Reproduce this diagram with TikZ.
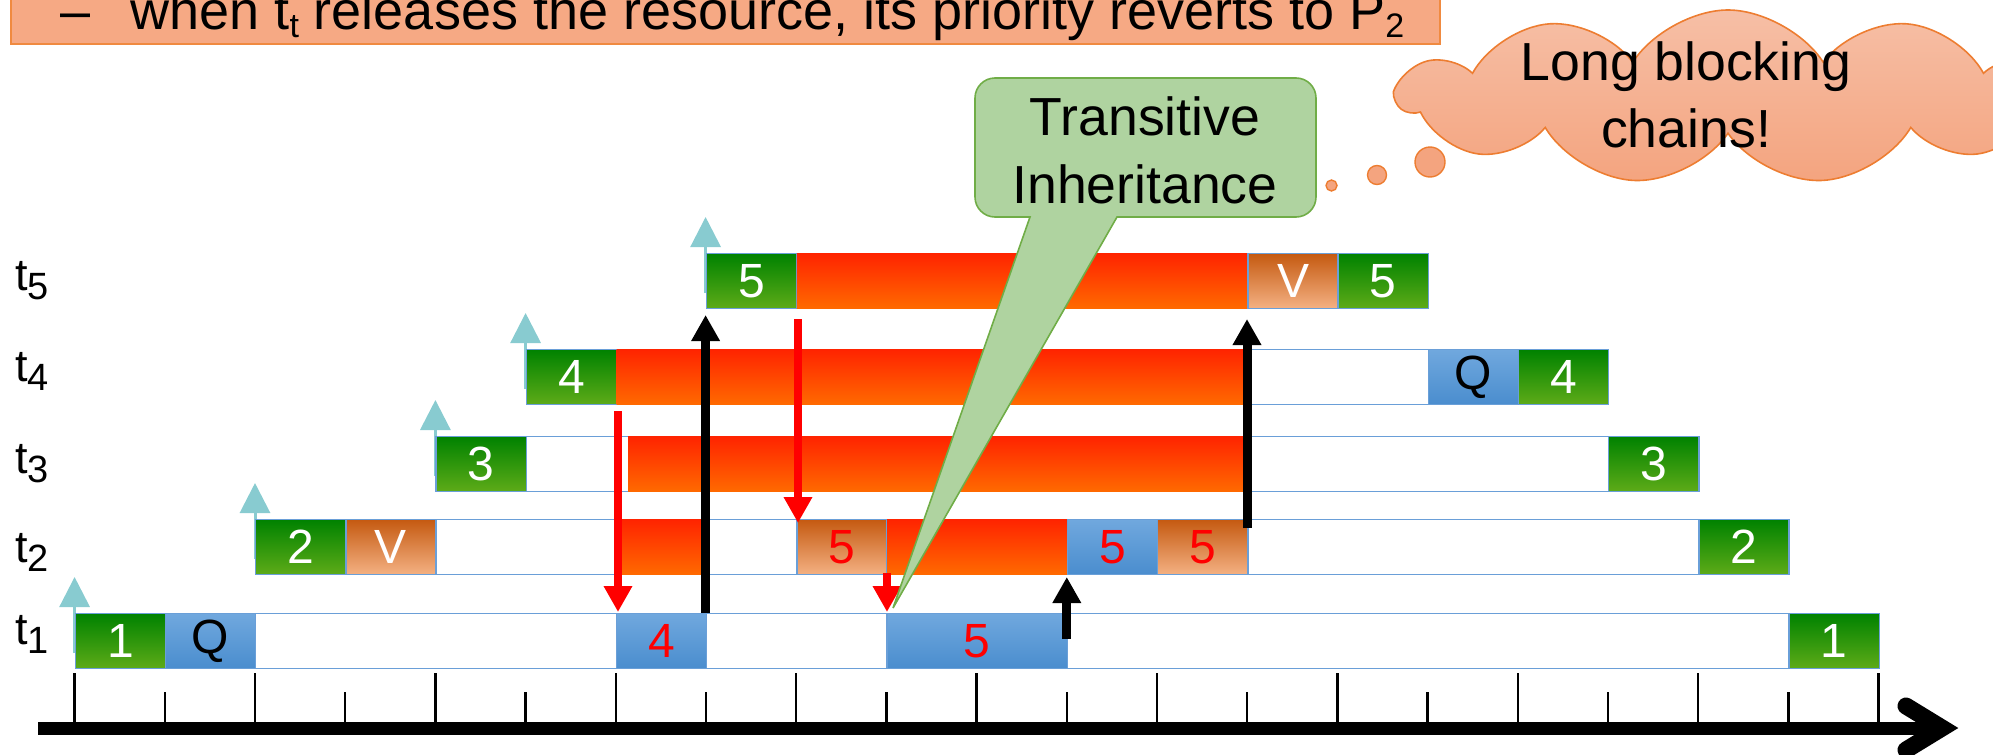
\documentclass[tikz,border=0pt]{standalone}
\usepackage{fontspec}
\setmainfont{Liberation Sans}
\usetikzlibrary{arrows.meta,shapes.symbols}

\definecolor{rowblue}{HTML}{6A9FD8}
\definecolor{gtop}{HTML}{008200}
\definecolor{gbot}{HTML}{5EAB18}
\definecolor{rtop}{HTML}{FF2400}
\definecolor{rbot}{HTML}{FF6A00}
\definecolor{otop}{HTML}{C55A11}
\definecolor{obot}{HTML}{F4B183}
\definecolor{btop}{HTML}{70A8DE}
\definecolor{bbot}{HTML}{4A8DCE}
\definecolor{relcyan}{HTML}{88CBD0}
\definecolor{callfill}{HTML}{AFD3A0}
\definecolor{calldraw}{HTML}{70AD47}
\definecolor{barfill}{HTML}{F6A984}
\definecolor{bardraw}{HTML}{F08A40}
\definecolor{cltop}{HTML}{F6BFA6}
\definecolor{clbot}{HTML}{F4A47F}
\definecolor{cldraw}{HTML}{ED7D31}

% name, style, start tick, end tick, row top (px), text
\newcommand{\TaskSeg}[6]{\node[#2, minimum width={(#4-#3)*45.1pt}, anchor=north west] (#1) at ({74.6+90.2*#3},#5) {#6};}
\newcommand{\SubTxt}[1]{\raisebox{-4pt}{\fontsize{17}{17}\selectfont #1}}
\newcommand{\LabSub}[1]{\raisebox{-4.5pt}{\fontsize{19}{19}\selectfont #1}}

\begin{document}
\begin{tikzpicture}[x=0.5pt,y=-0.5pt,
  segbase/.style={inner sep=0pt, minimum height=27.5pt, draw=rowblue, line width=0.7pt, font=\fontsize{24}{24}\selectfont},
  rowbox/.style={segbase, fill=white},
  greenbox/.style={segbase, top color=gtop, bottom color=gbot, text=white},
  orangebox/.style={segbase, top color=otop, bottom color=obot},
  bluebox/.style={segbase, top color=btop, bottom color=bbot},
  redbar/.style={segbase, draw=none, top color=rtop, bottom color=rbot},
  tlabel/.style={anchor=base west, inner sep=0pt, font=\fontsize{22.5}{22.5}\selectfont},
  bigtext/.style={anchor=base, inner sep=0pt, font=\fontsize{26.8}{26.8}\selectfont},
  relarrow/.style={draw=relcyan, line width=1.5pt, -{Triangle[length=15pt, width=15pt]}},
  blkarrow/.style={draw=black, line width=4.5pt, -{Triangle[length=13pt, width=13.5pt]}},
  redarrow/.style={draw=red, line width=4pt, -{Triangle[length=13pt, width=13.5pt]}},
  tickmark/.style={draw=black, line width=1.2pt},
  bubble/.style={circle, inner sep=0pt, draw=cldraw, line width=0.7pt, fill=clbot}
]
\useasboundingbox (0,0) rectangle (1993,755);
\clip (0,0) rectangle (1993,755);

% top bar
\path[draw=bardraw, fill=barfill, line width=1pt] (11,-20) rectangle (1440,44);
\node[anchor=base west, inner sep=0pt, font=\fontsize{27}{27}\selectfont] (toptext) at (60,30)
  {–\hspace{20pt}when t\SubTxt{t} releases the resource, its priority reverts to P\SubTxt{2}};

% row labels
\node[tlabel] (l5) at (15,290) {t\LabSub{5}};
\node[tlabel] (l4) at (15,381) {t\LabSub{4}};
\node[tlabel] (l3) at (15,473) {t\LabSub{3}};
\node[tlabel] (l2) at (15,562) {t\LabSub{2}};
\node[tlabel] (l1) at (15,644) {t\LabSub{1}};

% release arrows
\coordinate (rel1a) at (74.6,653);  \coordinate (rel1b) at (74.6,577);
\coordinate (rel2a) at (255,559);   \coordinate (rel2b) at (255,483);
\coordinate (rel3a) at (435.4,476); \coordinate (rel3b) at (435.4,400);
\coordinate (rel4a) at (525.6,389); \coordinate (rel4b) at (525.6,313);
\coordinate (rel5a) at (705.6,293); \coordinate (rel5b) at (705.6,217);
\foreach \i in {1,...,5} \draw[relarrow] (rel\i a) -- (rel\i b);

% rows
\TaskSeg{row5}{rowbox}{7}{15}{253}{}
\TaskSeg{row4}{rowbox}{5}{17}{349}{}
\TaskSeg{row3}{rowbox}{4}{18}{436}{}
\TaskSeg{row2}{rowbox}{2}{19}{519}{}
\TaskSeg{row1}{rowbox}{0}{20}{613}{}

% t1
\TaskSeg{a1}{greenbox}{0}{1}{613}{1}
\TaskSeg{a2}{bluebox}{1}{2}{613}{Q}
\TaskSeg{a3}{bluebox,text=red}{6}{7}{613}{4}
\TaskSeg{a4}{bluebox,text=red}{9}{11}{613}{5}
\TaskSeg{a5}{greenbox}{19}{20}{613}{1}
% t2
\TaskSeg{b1}{greenbox}{2}{3}{519}{2}
\TaskSeg{b2}{orangebox,text=white}{3}{4}{519}{V}
\TaskSeg{b3}{redbar}{6}{7}{519}{}
\TaskSeg{b4}{orangebox,text=red}{8}{9}{519}{5}
\TaskSeg{b5}{redbar}{9}{11}{519}{}
\TaskSeg{b6}{bluebox,text=red}{11}{12}{519}{5}
\TaskSeg{b7}{orangebox,text=red}{12}{13}{519}{5}
\TaskSeg{b8}{greenbox}{18}{19}{519}{2}
% t3
\TaskSeg{c1}{greenbox}{4}{5}{436}{3}
\TaskSeg{c2}{redbar}{6.13}{13}{436}{}
\TaskSeg{c3}{greenbox}{17}{18}{436}{3}
% t4
\TaskSeg{d1}{greenbox}{5}{6}{349}{4}
\TaskSeg{d2}{redbar}{6}{13}{349}{}
\TaskSeg{d3}{bluebox}{15}{16}{349}{Q}
\TaskSeg{d4}{greenbox}{16}{17}{349}{4}
% t5
\TaskSeg{e1}{greenbox}{7}{8}{253}{5}
\TaskSeg{e2}{redbar}{8}{13}{253}{}
\TaskSeg{e3}{orangebox,text=white}{13}{14}{253}{V}
\TaskSeg{e4}{greenbox}{14}{15}{253}{5}

% time axis
\foreach \k in {0,2,...,20} \draw[tickmark] ({74.6+90.2*\k},673) -- ({74.6+90.2*\k},724);
\foreach \k in {1,3,...,19} \draw[tickmark] ({74.6+90.2*\k},692) -- ({74.6+90.2*\k},724);
\coordinate (axL) at (38,728);
\coordinate (axR) at (1946,728);
\draw[line width=6.5pt] (axL) -- (axR);
\coordinate (ah1) at (1906,706);
\coordinate (ahT) at (1942,728);
\coordinate (ah2) at (1906,750);
\draw[line width=8.5pt, line cap=round, line join=miter] (ah1) -- (ahT) -- (ah2);

% inheritance arrows
\coordinate (k1a) at (705.6,613);  \coordinate (k1b) at (705.6,315);
\coordinate (k2a) at (1247,528);   \coordinate (k2b) at (1247,319);
\coordinate (k3a) at (1066.8,639); \coordinate (k3b) at (1066.8,577);
\draw[blkarrow] (k1a) -- (k1b);
\draw[blkarrow] (k2a) -- (k2b);
\draw[blkarrow] (k3a) -- (k3b);
\coordinate (q1a) at (618,411);  \coordinate (q1b) at (618,612);
\coordinate (q2a) at (798,319);  \coordinate (q2b) at (798,523);
\coordinate (q3a) at (887,573);  \coordinate (q3b) at (887,612);
\draw[redarrow] (q1a) -- (q1b);
\draw[redarrow] (q2a) -- (q2b);
\draw[redarrow] (q3a) -- (q3b);

% callout
\coordinate (calltip) at (893,608);
\draw[fill=callfill, draw=calldraw, line width=0.8pt]
  (1030,217) -- (calltip) -- (1117,217)
  {[rounded corners=10pt] -- (1316,217) -- (1316,78) -- (975,78) -- (975,217)} -- cycle;
\node[bigtext] (call1) at (1145,135) {Transitive};
\node[bigtext] (call2) at (1145,203) {Inheritance};

% thought cloud
\node[cloud, cloud puffs=11, cloud puff arc=115, cloud ignores aspect,
      minimum width=330pt, minimum height=87pt,
      draw=cldraw, line width=0.8pt, top color=cltop, bottom color=clbot] (cloud) at (1728,97) {};
\node[bubble, minimum size=5.5pt] (bub1) at (1331.5,185.5) {};
\node[bubble, minimum size=9.5pt] (bub2) at (1377,175) {};
\node[bubble, minimum size=15pt] (bub3) at (1430,162) {};
\node[bigtext] (cl1) at (1686,80) {Long blocking};
\node[bigtext] (cl2) at (1686,147) {chains!};
\end{tikzpicture}
\end{document}
